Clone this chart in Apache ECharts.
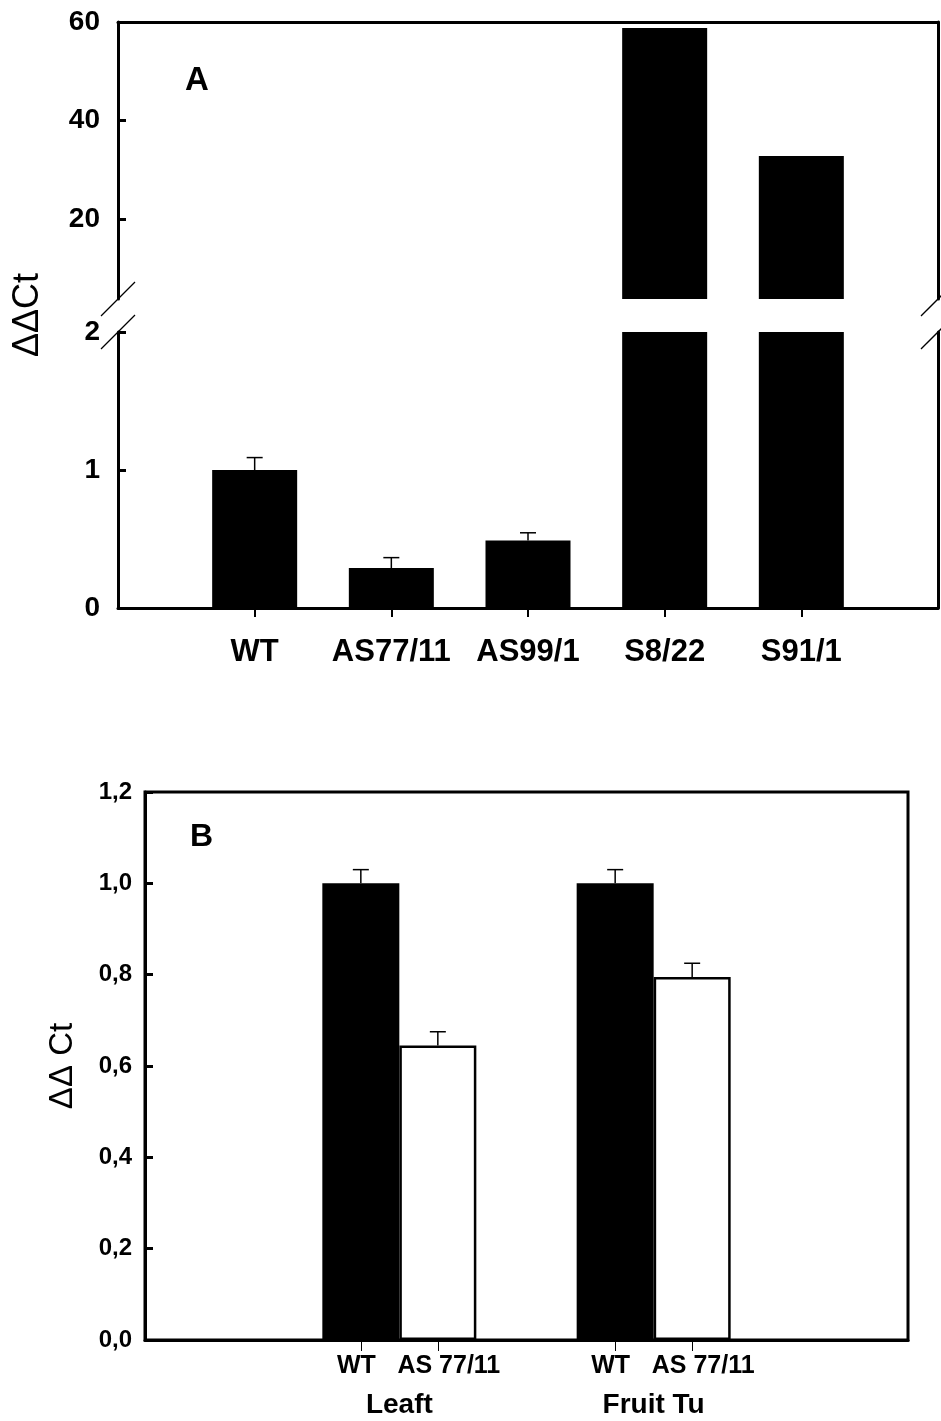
<!DOCTYPE html>
<html>
<head>
<meta charset="utf-8">
<script src="https://cdn.jsdelivr.net/npm/echarts/dist/echarts.min.js"></script>
<style>
html, body { margin: 0; padding: 0; background: #fff; }
#chart { width: 941px; height: 1421px; }
</style>
</head>
<body>
<div id="chart"></div>
<script>
// ---------- DATA ----------
// Panel A
const catsA = ['WT', 'AS77/11', 'AS99/1', 'S8/22', 'S91/1'];
const valuesA = [1.0, 0.29, 0.49, 58.8, 32.8];
const errorsA = [0.09, 0.075, 0.055, null, null];
const yTicksAUpper = [20, 40, 60];
const yTicksALower = [0, 1, 2];
// Panel B
const groupsB = ['Leaft', 'Fruit Tu'];
const seriesNamesB = ['WT', 'AS 77/11'];
const valuesB_WT = [1.0, 1.0];
const valuesB_AS = [0.645, 0.795];
const errorsB_WT = [0.03, 0.03];
const errorsB_AS = [0.03, 0.03];
const yTicksB = [0, 0.2, 0.4, 0.6, 0.8, 1.0, 1.2];

// ---------- LAYOUT ----------
const FONT = '"Liberation Sans", Arial, sans-serif';
const A_LEFT = 118, A_WIDTH = 820;
const A_UP_TOP = 22, A_UP_BOTTOM = 299;
const A_LO_TOP = 332, A_LO_BOTTOM = 608;
const A_UP_MIN = 3.8, A_UP_MAX = 60;
const B_LEFT = 145, B_WIDTH = 763, B_TOP = 792, B_BOTTOM = 1340;
const BAR_W_A = 85, BAR_W_B = 77;
const B_XMAX = 3;

const posA = catsA.map((_, i) => i + 1);
const posB = groupsB.map((_, i) => i + 1);

const barLowerA = posA.map((p, i) => [p, valuesA[i]]);
const barUpperA = posA.map((p, i) => valuesA[i] > A_UP_MIN ? [p, valuesA[i]] : [p, '-']);
const errA = [];
posA.forEach((p, i) => { if (errorsA[i] != null) errA.push([p, valuesA[i], errorsA[i]]); });

const errB_WT = posB.map((p, i) => [p, valuesB_WT[i], errorsB_WT[i]]);
const errB_AS = posB.map((p, i) => [p, valuesB_AS[i], errorsB_AS[i]]);

// sub-label positions in data units (bar centers)
const halfUnitB = (BAR_W_B / 2) / (B_WIDTH / B_XMAX);
const subTickValues = [];
const subTickKeys = [];
posB.forEach(p => {
  subTickValues.push(p - halfUnitB); subTickKeys.push(0);
  subTickValues.push(p + halfUnitB); subTickKeys.push(1);
});

function errorBar(offsetPx) {
  return function (params, api) {
    const x = api.value(0), v = api.value(1), e = api.value(2);
    const base = api.coord([x, v]);
    const top = api.coord([x, v + e]);
    const cx = base[0] + offsetPx;
    return {
      type: 'group',
      children: [
        { type: 'line', shape: { x1: cx, y1: base[1], x2: cx, y2: top[1] }, style: { stroke: '#000', lineWidth: 1.5 } },
        { type: 'line', shape: { x1: cx - 8, y1: top[1], x2: cx + 8, y2: top[1] }, style: { stroke: '#000', lineWidth: 1.5 } }
      ]
    };
  };
}

const lineStyle3 = { color: '#000', width: 3 };
const yLabelA = { color: '#000', fontSize: 28, fontWeight: 'bold', fontFamily: FONT, margin: 18 };
const yLabelB = { color: '#000', fontSize: 24, fontWeight: 'bold', fontFamily: FONT, margin: 13 };
const subLabelStyle = { color: '#000', fontSize: 25, fontWeight: 'bold', fontFamily: FONT };

function breakMarks(x, y) {
  return { type: 'line', shape: { x1: x - 17, y1: y + 17, x2: x + 17, y2: y - 17 }, style: { stroke: '#000', lineWidth: 1.3 }, z: 100 };
}

const option = {
  animation: false,
  backgroundColor: '#fff',
  title: [
    { text: 'A', left: 185, top: 64, padding: 0, textStyle: { fontSize: 33, fontWeight: 'bold', fontFamily: FONT, color: '#000' } },
    { text: 'B', left: 190, top: 821, padding: 0, textStyle: { fontSize: 32, fontWeight: 'bold', fontFamily: FONT, color: '#000' } }
  ],
  grid: [
    { left: A_LEFT, top: A_UP_TOP, width: A_WIDTH, height: A_UP_BOTTOM - A_UP_TOP, outerBoundsMode: 'none', containLabel: false },
    { left: A_LEFT, top: A_LO_TOP, width: A_WIDTH, height: A_LO_BOTTOM - A_LO_TOP, outerBoundsMode: 'none', containLabel: false },
    { left: B_LEFT, top: B_TOP, width: B_WIDTH, height: B_BOTTOM - B_TOP, outerBoundsMode: 'none', containLabel: false,
      show: true, borderColor: '#000', borderWidth: 3, backgroundColor: 'transparent' }
  ],
  xAxis: [
    // 0: panel A upper, top border
    { type: 'value', gridIndex: 0, position: 'top', min: 0, max: catsA.length + 1,
      axisLine: { show: true, onZero: false, lineStyle: lineStyle3 }, axisTick: { show: false }, axisLabel: { show: false }, splitLine: { show: false } },
    // 1: panel A lower, category labels
    { type: 'value', gridIndex: 1, position: 'bottom', min: 0, max: catsA.length + 1,
      axisLine: { show: true, onZero: false, lineStyle: lineStyle3 },
      axisTick: { show: true, inside: false, length: 9, lineStyle: { color: '#000', width: 2 }, customValues: posA },
      axisLabel: { show: true, customValues: posA, formatter: v => catsA[Math.round(v) - 1] || '',
        color: '#000', fontSize: 31, fontWeight: 'bold', fontFamily: FONT, margin: 29 },
      splitLine: { show: false } },
    // 2: panel B sub-labels
    { type: 'value', gridIndex: 2, position: 'bottom', min: 0, max: B_XMAX,
      axisLine: { show: true, onZero: false, lineStyle: lineStyle3 },
      axisTick: { show: true, inside: false, length: 11, lineStyle: { color: '#000', width: 1 }, customValues: subTickValues },
      axisLabel: { show: true, customValues: subTickValues,
        formatter: v => {
          const i = subTickValues.findIndex(t => Math.abs(t - v) < 1e-6);
          if (i < 0) return '';
          const k = subTickKeys[i];
          return '{s' + k + '|' + seriesNamesB[k] + '}';
        },
        rich: {
          s0: Object.assign({ padding: [0, 9, 0, 0] }, subLabelStyle),
          s1: Object.assign({ padding: [0, 0, 0, 22] }, subLabelStyle)
        },
        color: '#000', fontSize: 25, fontWeight: 'bold', fontFamily: FONT, margin: 14 },
      splitLine: { show: false } },
    // 3: panel B group labels
    { type: 'value', gridIndex: 2, position: 'bottom', min: 0, max: B_XMAX,
      axisLine: { show: false, onZero: false }, axisTick: { show: false },
      axisLabel: { show: true, customValues: posB, formatter: v => groupsB[Math.round(v) - 1] || '',
        color: '#000', fontSize: 28, fontWeight: 'bold', fontFamily: FONT, margin: 51 },
      splitLine: { show: false } }
  ],
  yAxis: [
    // 0: A upper left
    { type: 'value', gridIndex: 0, position: 'left', min: A_UP_MIN, max: A_UP_MAX,
      axisLine: { show: true, onZero: false, lineStyle: lineStyle3 },
      axisTick: { show: true, inside: true, length: 8, lineStyle: { color: '#000', width: 3 }, customValues: yTicksAUpper },
      axisLabel: Object.assign({ customValues: yTicksAUpper }, yLabelA),
      splitLine: { show: false } },
    // 1: A upper right
    { type: 'value', gridIndex: 0, position: 'right', min: A_UP_MIN, max: A_UP_MAX,
      axisLine: { show: true, onZero: false, lineStyle: lineStyle3 }, axisTick: { show: false }, axisLabel: { show: false }, splitLine: { show: false } },
    // 2: A lower left
    { type: 'value', gridIndex: 1, position: 'left', min: 0, max: 2, interval: 1,
      axisLine: { show: true, onZero: false, lineStyle: lineStyle3 },
      axisTick: { show: true, inside: true, length: 8, lineStyle: { color: '#000', width: 3 } },
      axisLabel: Object.assign({ customValues: yTicksALower }, yLabelA),
      splitLine: { show: false } },
    // 3: A lower right
    { type: 'value', gridIndex: 1, position: 'right', min: 0, max: 2,
      axisLine: { show: true, onZero: false, lineStyle: lineStyle3 }, axisTick: { show: false }, axisLabel: { show: false }, splitLine: { show: false } },
    // 4: B left
    { type: 'value', gridIndex: 2, position: 'left', min: 0, max: 1.2, interval: 0.2,
      name: 'ΔΔ Ct', nameLocation: 'middle', nameRotate: 90, nameGap: 66,
      nameTextStyle: { color: '#000', fontSize: 33, fontFamily: FONT, fontWeight: 'normal' },
      axisLine: { show: true, onZero: false, lineStyle: lineStyle3 },
      axisTick: { show: true, inside: true, length: 8, lineStyle: { color: '#000', width: 3 } },
      axisLabel: Object.assign({ customValues: yTicksB, formatter: v => v.toFixed(1).replace('.', ',') }, yLabelB),
      splitLine: { show: false } }
  ],
  graphic: [
    { type: 'text', x: 28, y: (A_UP_TOP + A_LO_BOTTOM) / 2, rotation: Math.PI / 2,
      style: { text: 'ΔΔCt', font: '36px ' + FONT, fill: '#000', textAlign: 'center', textVerticalAlign: 'middle', align: 'center', verticalAlign: 'middle' } },
    breakMarks(A_LEFT, A_UP_BOTTOM),
    breakMarks(A_LEFT, A_LO_TOP),
    breakMarks(A_LEFT + A_WIDTH, A_UP_BOTTOM),
    breakMarks(A_LEFT + A_WIDTH, A_LO_TOP)
  ],
  series: [
    { type: 'bar', xAxisIndex: 0, yAxisIndex: 0, data: barUpperA, barWidth: BAR_W_A, clip: true,
      itemStyle: { color: '#000' } },
    { type: 'bar', xAxisIndex: 1, yAxisIndex: 2, data: barLowerA, barWidth: BAR_W_A, clip: true,
      itemStyle: { color: '#000' } },
    { type: 'custom', xAxisIndex: 1, yAxisIndex: 2, data: errA, renderItem: errorBar(0), z: 5 },
    { type: 'bar', name: seriesNamesB[0], xAxisIndex: 2, yAxisIndex: 4, data: posB.map((p, i) => [p, valuesB_WT[i]]),
      barWidth: BAR_W_B, barGap: '0%', itemStyle: { color: '#000' } },
    { type: 'bar', name: seriesNamesB[1], xAxisIndex: 2, yAxisIndex: 4, data: posB.map((p, i) => [p, valuesB_AS[i]]),
      barWidth: BAR_W_B, barGap: '0%', itemStyle: { color: '#fff', borderColor: '#000', borderWidth: 2.5 } },
    { type: 'custom', xAxisIndex: 2, yAxisIndex: 4, data: errB_WT, renderItem: errorBar(-BAR_W_B / 2), z: 5 },
    { type: 'custom', xAxisIndex: 2, yAxisIndex: 4, data: errB_AS, renderItem: errorBar(BAR_W_B / 2), z: 5 }
  ]
};

const chart = echarts.init(document.getElementById('chart'), null, { renderer: 'canvas' });
chart.setOption(option);
</script>
</body>
</html>
